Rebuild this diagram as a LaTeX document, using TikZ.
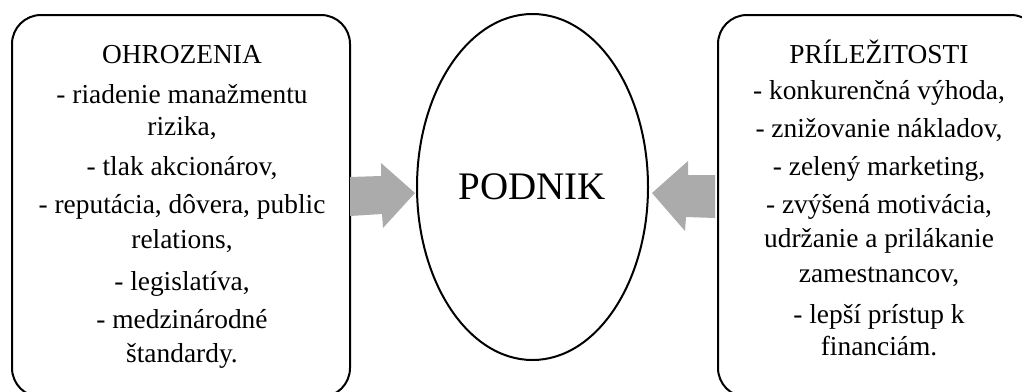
\documentclass[tikz,border=0pt]{standalone}
\usepackage{fontspec}
\setmainfont{Liberation Serif}
\usetikzlibrary{shapes.geometric}
\definecolor{arrowgray}{HTML}{ABABAB}
\begin{document}
\begin{tikzpicture}[x=1pt,y=-1pt,
  box/.style={draw, line width=2pt, rounded corners=29pt, inner sep=0pt, anchor=north west},
  txt/.style={anchor=base, inner sep=0pt, font=\fontsize{27.4}{32}\selectfont},
  arr/.style={fill=arrowgray, draw=none}]
\useasboundingbox (0,0) rectangle (1022,391);
\node[box, minimum width=338pt, minimum height=382pt] (lbox) at (11,14) {};
\node[box, minimum width=322pt, minimum height=382pt] (rbox) at (717,14) {};
\node[draw, ellipse, line width=2pt, minimum width=231pt, minimum height=346pt, inner sep=0pt,
      font=\fontsize{39}{44}\selectfont] (ell) at (532.5,187) {PODNIK};
% left text
\node[txt] (l1) at (182,63) {OHROZENIA};
\node[txt] (l2) at (182,103) {- riadenie manažmentu};
\node[txt] (l3) at (182,135) {rizika,};
\node[txt] (l4) at (182,175) {- tlak akcionárov,};
\node[txt] (l5) at (182,213) {- reputácia, dôvera, public};
\node[txt] (l6) at (182,248) {relations,};
\node[txt] (l7) at (182,290) {- legislatíva,};
\node[txt] (l8) at (182,328) {- medzinárodné};
\node[txt] (l9) at (182,362) {štandardy.};
% right text
\node[txt] (r1) at (879,63) {PRÍLEŽITOSTI};
\node[txt] (r2) at (879,99) {- konkurenčná výhoda,};
\node[txt] (r3) at (879,137) {- znižovanie nákladov,};
\node[txt] (r4) at (879,175) {- zelený marketing,};
\node[txt] (r5) at (879,213) {- zvýšená motivácia,};
\node[txt] (r6) at (879,247) {udržanie a prilákanie};
\node[txt] (r7) at (879,282) {zamestnancov,};
\node[txt] (r8) at (879,323) {- lepší prístup k};
\node[txt] (r9) at (879,355) {financiám.};
% block arrows from the boxes to the ellipse
\fill[arr] (350,177) -- (381,176) -- (381,163) -- (415,193) -- (383,228) -- (382,214) -- (350,216) -- cycle;
\fill[arr] (715,175) -- (688,175) -- (688,161) -- (652,193) -- (685,231) -- (686,217) -- (715,218) -- cycle;
\end{tikzpicture}
\end{document}
